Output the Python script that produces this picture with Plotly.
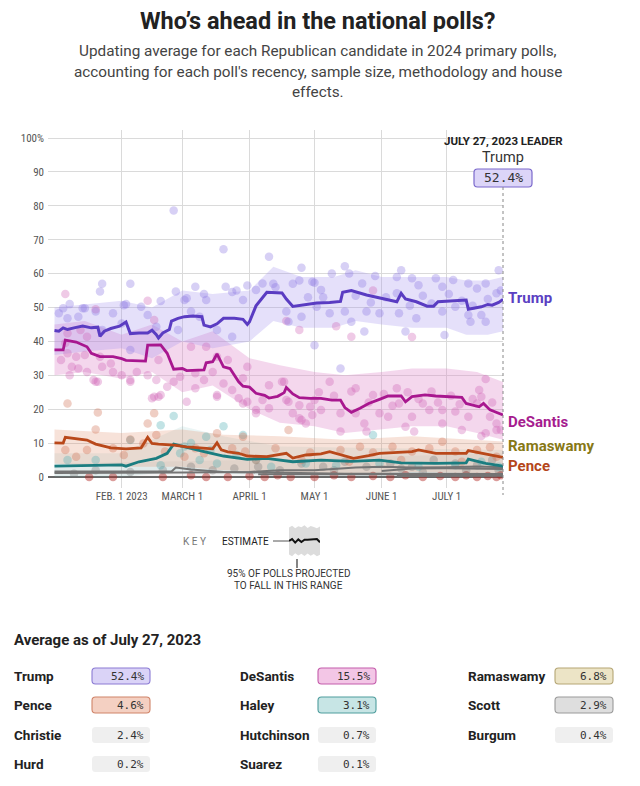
import plotly.graph_objects as go

# ---------------- data ----------------
TRUMP_AVG = [
    ("2023-01-01", 43.2), ("2023-01-03", 43.0), ("2023-01-05", 44.0), ("2023-01-07", 43.5),
    ("2023-01-10", 44.0), ("2023-01-14", 44.5), ("2023-01-18", 44.0), ("2023-01-21", 44.2),
    ("2023-01-22", 41.5), ("2023-01-24", 43.0), ("2023-01-27", 43.8), ("2023-01-31", 44.5),
    ("2023-02-03", 45.7), ("2023-02-05", 42.3), ("2023-02-09", 42.5), ("2023-02-13", 42.5),
    ("2023-02-15", 43.3), ("2023-02-17", 42.0), ("2023-02-18", 41.0), ("2023-02-20", 42.5),
    ("2023-02-23", 43.5), ("2023-02-24", 46.0), ("2023-02-27", 46.8), ("2023-03-02", 47.3),
    ("2023-03-06", 47.5), ("2023-03-10", 47.3), ("2023-03-11", 44.8), ("2023-03-14", 44.3),
    ("2023-03-17", 45.2), ("2023-03-20", 46.8), ("2023-03-25", 46.8), ("2023-03-29", 46.5),
    ("2023-03-31", 45.0), ("2023-04-01", 45.8), ("2023-04-04", 50.5), ("2023-04-07", 53.0),
    ("2023-04-09", 54.5), ("2023-04-16", 54.3), ("2023-04-18", 52.5), ("2023-04-21", 50.3),
    ("2023-04-23", 50.5), ("2023-04-27", 51.0), ("2023-05-02", 51.3), ("2023-05-08", 51.5),
    ("2023-05-13", 51.8), ("2023-05-14", 54.5), ("2023-05-18", 55.0), ("2023-05-25", 53.7),
    ("2023-06-01", 52.7), ("2023-06-08", 51.7), ("2023-06-10", 54.2), ("2023-06-12", 52.5),
    ("2023-06-17", 51.7), ("2023-06-22", 50.4), ("2023-06-25", 50.4), ("2023-06-27", 51.7),
    ("2023-07-10", 52.2), ("2023-07-11", 49.5), ("2023-07-17", 50.2), ("2023-07-20", 50.9),
    ("2023-07-22", 50.7), ("2023-07-25", 51.5), ("2023-07-27", 52.4),
]
DESANTIS_AVG = [
    ("2023-01-01", 37.5), ("2023-01-05", 37.5), ("2023-01-06", 40.4), ("2023-01-11", 39.8),
    ("2023-01-16", 38.4), ("2023-01-18", 36.5), ("2023-01-22", 35.5), ("2023-01-28", 35.5),
    ("2023-02-01", 34.9), ("2023-02-03", 34.4), ("2023-02-12", 34.2), ("2023-02-13", 38.9),
    ("2023-02-19", 39.0), ("2023-02-22", 36.5), ("2023-02-25", 31.8), ("2023-03-01", 32.0),
    ("2023-03-03", 31.4), ("2023-03-11", 31.6), ("2023-03-12", 33.7), ("2023-03-15", 34.0),
    ("2023-03-17", 36.3), ("2023-03-20", 32.5), ("2023-03-23", 32.0), ("2023-03-27", 28.1),
    ("2023-03-29", 26.8), ("2023-04-01", 26.5), ("2023-04-04", 24.7), ("2023-04-08", 24.1),
    ("2023-04-10", 23.3), ("2023-04-14", 23.8), ("2023-04-17", 24.9), ("2023-04-18", 26.4),
    ("2023-04-21", 24.5), ("2023-04-24", 23.4), ("2023-04-29", 23.2), ("2023-05-04", 23.2),
    ("2023-05-09", 22.7), ("2023-05-13", 22.7), ("2023-05-15", 20.5), ("2023-05-18", 19.1),
    ("2023-05-22", 20.3), ("2023-05-26", 21.7), ("2023-05-31", 22.9), ("2023-06-04", 23.9),
    ("2023-06-10", 23.9), ("2023-06-12", 22.2), ("2023-06-15", 23.7), ("2023-06-21", 24.2),
    ("2023-06-26", 23.9), ("2023-07-08", 23.5), ("2023-07-10", 21.7), ("2023-07-16", 20.7),
    ("2023-07-18", 21.7), ("2023-07-21", 19.8), ("2023-07-27", 18.3),
]
PENCE_AVG = [
    ("2023-01-01", 10.1), ("2023-01-05", 10.0), ("2023-01-06", 11.7), ("2023-01-12", 11.1),
    ("2023-01-16", 10.9), ("2023-01-20", 9.7), ("2023-01-27", 8.6), ("2023-02-03", 8.3),
    ("2023-02-10", 8.6), ("2023-02-13", 11.7), ("2023-02-15", 9.9), ("2023-02-18", 9.7),
    ("2023-02-25", 9.4), ("2023-03-03", 8.9), ("2023-03-12", 8.6), ("2023-03-15", 8.3),
    ("2023-03-17", 10.1), ("2023-03-19", 8.0), ("2023-03-22", 7.4), ("2023-03-27", 7.0),
    ("2023-03-31", 6.2), ("2023-04-09", 6.0), ("2023-04-18", 7.0), ("2023-04-21", 5.6),
    ("2023-04-27", 6.5), ("2023-05-04", 6.8), ("2023-05-08", 7.5), ("2023-05-19", 5.5),
    ("2023-05-26", 6.3), ("2023-05-31", 7.0), ("2023-06-15", 7.5), ("2023-06-18", 8.0),
    ("2023-06-26", 7.0), ("2023-07-10", 7.0), ("2023-07-11", 7.8), ("2023-07-17", 7.1),
    ("2023-07-27", 5.8),
]
HALEY_AVG = [
    ("2023-01-01", 3.2), ("2023-01-22", 3.4), ("2023-02-01", 3.6), ("2023-02-03", 3.2),
    ("2023-02-09", 4.5), ("2023-02-17", 5.5), ("2023-02-22", 7.0), ("2023-02-25", 9.7),
    ("2023-02-28", 9.2), ("2023-03-05", 8.5), ("2023-03-11", 7.5), ("2023-03-20", 6.2),
    ("2023-03-31", 5.2), ("2023-04-09", 5.5), ("2023-04-21", 4.5), ("2023-05-04", 5.0),
    ("2023-05-18", 4.6), ("2023-05-31", 5.0), ("2023-06-10", 4.2), ("2023-06-26", 4.0),
    ("2023-07-10", 4.2), ("2023-07-11", 5.3), ("2023-07-19", 4.0), ("2023-07-27", 3.2),
]
SCOTT_AVG = [
    ("2023-01-01", 1.2), ("2023-02-01", 1.2), ("2023-03-01", 1.3), ("2023-04-01", 1.5),
    ("2023-04-15", 2.0), ("2023-05-01", 2.0), ("2023-05-20", 2.8), ("2023-06-01", 3.0),
    ("2023-06-15", 2.8), ("2023-07-01", 2.9), ("2023-07-15", 3.1), ("2023-07-27", 2.9),
]
OTHER_AVG = [
    ("2023-01-01", 1.6), ("2023-02-24", 1.6), ("2023-02-26", 2.8), ("2023-03-05", 2.2),
    ("2023-03-20", 1.5), ("2023-04-15", 1.2), ("2023-05-15", 1.0), ("2023-06-15", 1.0),
    ("2023-07-27", 0.9),
]
CHRISTIE_AVG = [
    ("2023-06-01", 1.8), ("2023-06-15", 2.5), ("2023-07-01", 2.6), ("2023-07-15", 2.5),
    ("2023-07-27", 2.4),
]
HUTCHINSON_AVG = [
    ("2023-04-05", 0.8), ("2023-05-01", 0.9), ("2023-06-01", 0.8), ("2023-07-01", 0.8),
    ("2023-07-27", 0.7),
]
BURGUM_AVG = [("2023-06-08", 0.3), ("2023-07-27", 0.4)]

TRUMP_BAND = [  # date, low, high
    ("2023-01-01", 36, 50), ("2023-01-15", 37, 51), ("2023-02-01", 38, 52),
    ("2023-02-15", 35, 50), ("2023-03-01", 40, 55), ("2023-03-15", 38, 54),
    ("2023-04-01", 40, 55), ("2023-04-12", 46, 62), ("2023-04-25", 44, 59),
    ("2023-05-10", 44, 59), ("2023-05-20", 46, 61), ("2023-06-01", 45, 59),
    ("2023-06-15", 44, 59), ("2023-07-01", 44, 59), ("2023-07-10", 42, 58),
    ("2023-07-20", 42, 58), ("2023-07-27", 43, 59),
]
DESANTIS_BAND = [
    ("2023-01-01", 30, 45), ("2023-01-15", 31, 46), ("2023-02-01", 29, 42),
    ("2023-02-15", 31, 45), ("2023-03-01", 25, 40), ("2023-03-15", 27, 43),
    ("2023-04-01", 20, 35), ("2023-04-15", 16, 33), ("2023-05-01", 15, 31),
    ("2023-05-15", 13, 30), ("2023-06-01", 14, 31), ("2023-06-15", 15, 32),
    ("2023-07-01", 15, 32), ("2023-07-15", 13, 31), ("2023-07-27", 11, 28),
]
PENCE_BAND = [
    ("2023-01-01", 4, 14), ("2023-02-01", 3, 13), ("2023-03-01", 3, 14),
    ("2023-03-20", 2, 12.5), ("2023-04-15", 1.5, 12), ("2023-05-15", 1, 11),
    ("2023-06-15", 1.5, 12), ("2023-07-27", 1, 10.5),
]
HALEY_BAND = [
    ("2023-01-01", 0, 7), ("2023-02-01", 0, 7), ("2023-03-01", 2, 15),
    ("2023-03-20", 1, 12), ("2023-04-15", 0.5, 9), ("2023-07-27", 0, 8),
]
OTHER_BAND = [("2023-01-01", 0, 4), ("2023-04-01", 0, 5), ("2023-07-27", 0, 7)]

TRUMP_POLLS = [
    ("2023-02-25", 78.6), ("2023-03-20", 67.2), ("2023-04-10", 65.0), ("2023-04-25", 61.7),
    ("2023-01-23", 57.0), ("2023-02-05", 57.0), ("2023-01-22", 54.7), ("2023-03-07", 56.1),
    ("2023-01-08", 51.0), ("2023-02-26", 54.7), ("2023-03-21", 56.1), ("2023-04-07", 57.1),
    ("2023-03-31", 56.5), ("2023-04-12", 57.0), ("2023-04-21", 57.0), ("2023-04-24", 58.0),
    ("2023-05-01", 57.3), ("2023-02-19", 51.9), ("2023-02-03", 51.0), ("2023-01-14", 49.8),
    ("2023-01-05", 49.8), ("2023-03-03", 52.7), ("2023-03-11", 54.0), ("2023-03-24", 54.6),
    ("2023-03-26", 55.0), ("2023-04-04", 55.2), ("2023-05-15", 62.2), ("2023-06-10", 61.0),
    ("2023-05-09", 60.0), ("2023-05-17", 60.0), ("2023-05-29", 59.3), ("2023-06-08", 59.0),
    ("2023-06-15", 58.6), ("2023-06-26", 58.6), ("2023-07-04", 58.1), ("2023-07-11", 57.1),
    ("2023-07-19", 57.1), ("2023-07-25", 61.0), ("2023-04-13", 56.0), ("2023-04-30", 57.6),
    ("2023-05-23", 57.1), ("2023-06-18", 56.6), ("2023-06-29", 56.1), ("2023-07-15", 55.6),
    ("2023-07-24", 54.2), ("2023-04-18", 48.8), ("2023-05-08", 48.3), ("2023-05-15", 48.8),
    ("2023-05-25", 48.8), ("2023-06-09", 48.3), ("2023-06-17", 46.8), ("2023-06-29", 48.8),
    ("2023-07-11", 47.8), ("2023-07-17", 47.8), ("2023-07-19", 45.8), ("2023-07-12", 45.8),
    ("2023-04-19", 45.8), ("2023-05-18", 45.8), ("2023-05-24", 42.9), ("2023-06-12", 42.9),
    ("2023-06-30", 41.9), ("2023-05-01", 38.9), ("2023-05-13", 32.0), ("2023-04-25", 47.3),
    ("2023-05-02", 50.2), ("2023-05-31", 48.3), ("2023-07-05", 50.2), ("2023-06-24", 51.2),
    ("2023-05-04", 55.2), ("2023-06-08", 54.2), ("2023-01-15", 49.8), ("2023-01-07", 46.8),
    ("2023-01-12", 47.3), ("2023-01-20", 48.8), ("2023-01-28", 48.3), ("2023-02-02", 50.7),
    ("2023-02-10", 50.2), ("2023-02-13", 47.8), ("2023-03-02", 52.2), ("2023-03-12", 52.2),
    ("2023-03-29", 52.2), ("2023-02-27", 43.4), ("2023-02-05", 37.5), ("2023-01-23", 43.4),
    ("2023-02-01", 45.3), ("2023-03-17", 43.4), ("2023-03-24", 41.4), ("2023-03-09", 47.3),
    ("2023-02-17", 44.3), ("2023-01-03", 48.3), ("2023-03-05", 48.8), ("2023-05-05", 53.0),
    ("2023-05-20", 53.5), ("2023-06-03", 53.0), ("2023-06-20", 53.5), ("2023-07-02", 54.0),
    ("2023-07-08", 52.0), ("2023-07-20", 52.5), ("2023-07-26", 55.0), ("2023-04-28", 53.0),
    ("2023-05-27", 51.5), ("2023-06-14", 50.5), ("2023-07-13", 50.5),
]
DESANTIS_POLLS = [
    ("2023-01-06", 54.0), ("2023-02-13", 52.0), ("2023-01-20", 49.5), ("2023-05-28", 55.0),
    ("2023-04-24", 43.4), ("2023-05-11", 44.5), ("2023-05-18", 41.4), ("2023-06-15", 41.3),
    ("2023-04-18", 46.0), ("2023-01-07", 36.5), ("2023-01-09", 32.5), ("2023-01-12", 32.0),
    ("2023-01-08", 30.0), ("2023-01-16", 31.0), ("2023-01-19", 28.6), ("2023-01-21", 28.1),
    ("2023-01-23", 32.5), ("2023-01-27", 33.5), ("2023-01-28", 31.0), ("2023-02-01", 30.0),
    ("2023-02-05", 28.6), ("2023-02-08", 31.0), ("2023-02-13", 30.0), ("2023-02-17", 28.6),
    ("2023-02-15", 23.2), ("2023-02-18", 23.7), ("2023-02-22", 26.6), ("2023-02-25", 28.1),
    ("2023-02-28", 29.6), ("2023-03-03", 22.2), ("2023-03-07", 26.2), ("2023-03-11", 28.6),
    ("2023-03-15", 31.0), ("2023-03-17", 23.7), ("2023-03-20", 27.6), ("2023-03-24", 25.7),
    ("2023-03-27", 23.2), ("2023-03-31", 22.2), ("2023-03-29", 29.1), ("2023-04-04", 19.8),
    ("2023-04-07", 22.7), ("2023-04-10", 27.1), ("2023-04-16", 28.1), ("2023-04-18", 22.7),
    ("2023-04-21", 18.8), ("2023-04-24", 17.3), ("2023-04-29", 20.7), ("2023-05-01", 22.7),
    ("2023-04-30", 18.3), ("2023-01-04", 34.5), ("2023-01-07", 42.4), ("2023-01-13", 43.4),
    ("2023-01-16", 41.4), ("2023-01-22", 35.5), ("2023-01-15", 36.0), ("2023-03-07", 30.6),
    ("2023-02-18", 34.5), ("2023-04-17", 28.1), ("2023-05-08", 28.1), ("2023-05-18", 25.2),
    ("2023-05-20", 26.2), ("2023-05-28", 24.2), ("2023-06-08", 26.2), ("2023-06-09", 21.7),
    ("2023-06-20", 21.7), ("2023-06-24", 25.2), ("2023-06-29", 19.8), ("2023-07-05", 19.3),
    ("2023-07-16", 25.7), ("2023-07-19", 28.9), ("2023-07-17", 23.7), ("2023-07-17", 12.1),
    ("2023-07-19", 12.9), ("2023-07-24", 15.8), ("2023-07-26", 13.9), ("2023-04-19", 22.2),
    ("2023-04-24", 21.2), ("2023-04-25", 16.8), ("2023-04-27", 15.8), ("2023-05-04", 19.8),
    ("2023-05-13", 18.8), ("2023-05-13", 13.4), ("2023-05-20", 18.8), ("2023-05-24", 15.8),
    ("2023-05-25", 13.4), ("2023-05-31", 18.8), ("2023-06-04", 17.8), ("2023-06-12", 14.8),
    ("2023-06-15", 17.8), ("2023-06-16", 13.4), ("2023-06-23", 19.8), ("2023-06-29", 15.8),
    ("2023-07-08", 13.9), ("2023-07-11", 17.8), ("2023-07-15", 21.7), ("2023-07-21", 17.8),
    ("2023-07-24", 13.9), ("2023-01-06", 39.5), ("2023-01-11", 35.5), ("2023-02-16", 46.3),
    ("2023-03-05", 38.4), ("2023-03-12", 38.4), ("2023-03-17", 35.5), ("2023-03-22", 34.5),
    ("2023-03-31", 32.5), ("2023-01-20", 28.1), ("2023-02-05", 28.1), ("2023-02-16", 23.7),
    ("2023-02-19", 24.2), ("2023-03-17", 24.2), ("2023-03-29", 21.7), ("2023-04-04", 18.8),
    ("2023-04-10", 20.3), ("2023-05-03", 25.0), ("2023-05-10", 24.0), ("2023-05-26", 22.0),
    ("2023-06-02", 24.5), ("2023-06-06", 21.0), ("2023-06-13", 25.0), ("2023-06-18", 23.0),
    ("2023-06-27", 22.0), ("2023-07-03", 24.0), ("2023-07-07", 21.5), ("2023-07-13", 23.0),
    ("2023-07-22", 22.0),
]
PENCE_POLLS = [
    ("2023-01-07", 21.7), ("2023-01-21", 19.0), ("2023-01-20", 14.0), ("2023-02-13", 15.8),
    ("2023-02-16", 18.8), ("2023-03-17", 12.9), ("2023-03-29", 11.9), ("2023-01-16", 8.0),
    ("2023-01-11", 6.0), ("2023-01-28", 8.5), ("2023-02-05", 11.1), ("2023-02-11", 9.9),
    ("2023-02-17", 12.4), ("2023-02-21", 7.5), ("2023-03-02", 6.0), ("2023-03-07", 8.5),
    ("2023-03-11", 7.0), ("2023-03-24", 8.5), ("2023-03-30", 7.5), ("2023-04-04", 5.0),
    ("2023-01-06", 8.0), ("2023-02-02", 6.5), ("2023-04-13", 8.5), ("2023-04-19", 13.9),
    ("2023-04-29", 7.2), ("2023-05-13", 8.0), ("2023-05-22", 8.9), ("2023-05-28", 7.2),
    ("2023-06-06", 8.9), ("2023-06-15", 7.5), ("2023-06-23", 8.5), ("2023-06-29", 10.4),
    ("2023-07-05", 7.5), ("2023-07-15", 8.0), ("2023-07-21", 8.8), ("2023-07-24", 6.0),
    ("2023-04-25", 5.0), ("2023-05-17", 4.5), ("2023-06-10", 5.0), ("2023-07-08", 4.5),
]
HALEY_POLLS = [
    ("2023-02-25", 18.0), ("2023-03-20", 15.0), ("2023-03-29", 12.4), ("2023-02-19", 15.3),
    ("2023-03-12", 11.9), ("2023-01-07", 5.0), ("2023-01-20", 5.0), ("2023-02-05", 10.9),
    ("2023-02-19", 3.5), ("2023-02-28", 7.0), ("2023-03-09", 5.0), ("2023-03-17", 4.0),
    ("2023-03-26", 6.5), ("2023-04-04", 5.0), ("2023-05-28", 12.4), ("2023-04-11", 3.0),
    ("2023-04-27", 4.0), ("2023-05-11", 3.5), ("2023-05-31", 4.0), ("2023-06-18", 3.0),
    ("2023-07-05", 3.5), ("2023-07-17", 4.5), ("2023-07-25", 3.0), ("2023-03-02", 9.0),
    ("2023-03-05", 10.0), ("2023-03-14", 8.0),
]
OTHER_POLLS = [
    ("2023-01-10", 1.0), ("2023-01-20", 2.0), ("2023-02-05", 1.5), ("2023-02-20", 2.0),
    ("2023-03-05", 3.0), ("2023-03-15", 2.0), ("2023-03-25", 2.5), ("2023-04-05", 3.0),
    ("2023-04-15", 2.0), ("2023-04-25", 4.0), ("2023-05-05", 3.0), ("2023-05-15", 4.5),
    ("2023-05-25", 3.0), ("2023-06-05", 4.0), ("2023-06-15", 3.0), ("2023-06-25", 5.0),
    ("2023-07-05", 4.0), ("2023-07-15", 3.5), ("2023-07-22", 5.0), ("2023-07-25", 2.0),
    ("2023-05-10", 2.0), ("2023-06-10", 2.5), ("2023-06-20", 1.5), ("2023-07-10", 2.0),
]
LOW_POLLS = [
    ("2023-01-28", 0.0), ("2023-02-20", 0.0), ("2023-03-05", 0.5), ("2023-03-22", 0.0),
    ("2023-04-01", 0.3), ("2023-04-08", 0.0), ("2023-04-14", 0.5), ("2023-04-20", 0.0),
    ("2023-05-01", 0.0), ("2023-05-10", 0.5), ("2023-05-18", 0.0), ("2023-05-28", 0.3),
    ("2023-06-05", 0.0), ("2023-06-12", 0.5), ("2023-06-20", 0.0), ("2023-06-28", 0.3),
    ("2023-07-05", 0.0), ("2023-07-10", 0.5), ("2023-07-15", 0.0), ("2023-07-20", 0.3),
    ("2023-07-24", 0.0), ("2023-07-26", 0.5), ("2023-01-17", 0.0), ("2023-03-12", 0.0),
]

KEY_X = [0, 1, 2, 3, 4, 5, 6, 7, 8, 9, 10]
KEY_HIGH = [9.2, 9.8, 9.0, 9.6, 9.3, 9.9, 9.1, 9.7, 9.4, 9.0, 9.5]
KEY_LOW = [0.8, 0.2, 1.2, 0.5, 1.0, 0.3, 1.1, 0.4, 0.9, 0.2, 0.7]
KEY_EST = [5.0, 5.6, 4.5, 5.5, 4.7, 5.4, 5.4, 5.5, 5.4, 5.6, 4.6]

X_TICKS = ["2023-02-01", "2023-03-01", "2023-04-01", "2023-05-01", "2023-06-01", "2023-07-01"]
X_TICK_TEXT = ["FEB. 1 2023", "MARCH 1", "APRIL 1", "MAY 1", "JUNE 1", "JULY 1"]
Y_TICKS = [0, 10, 20, 30, 40, 50, 60, 70, 80, 90, 100]
Y_TICK_TEXT = ["0", "10", "20", "30", "40", "50", "60", "70", "80", "90", "100%"]

TABLE_NAMES = ["Trump", "DeSantis", "Ramaswamy", "Pence", "Haley", "Scott",
               "Christie", "Hutchinson", "Burgum", "Hurd", "Suarez"]
TABLE_VALUES = [52.4, 15.5, 6.8, 4.6, 3.1, 2.9, 2.4, 0.7, 0.4, 0.2, 0.1]

# ---------------- helpers ----------------
# The page body has an 8px margin, so the figure is drawn 8px in from the window
# edge; positions below are given in window pixels and shifted accordingly.
PAGE_OFF = 8
W, H = 624, 770


def fx(p):
    return (p - PAGE_OFF) / W


def fy(p):
    return 1 - (p - PAGE_OFF) / H


def col(rows, i):
    return [r[i] for r in rows]


def band(rows, color):
    d = col(rows, 0)
    return go.Scatter(x=d + d[::-1], y=col(rows, 2) + col(rows, 1)[::-1], fill="toself",
                      fillcolor=color, line=dict(width=0), mode="lines", hoverinfo="skip")


def dots(rows, color):
    return go.Scatter(x=col(rows, 0), y=col(rows, 1), mode="markers",
                      marker=dict(size=8.5, color=color, line=dict(width=0)), hoverinfo="skip")


def line(rows, color, width=2.8):
    return go.Scatter(x=col(rows, 0), y=col(rows, 1), mode="lines",
                      line=dict(color=color, width=width), hoverinfo="skip")


def rrect(x0, y0, x1, y1, r=3.5):
    return (f"M {fx(x0 + r)},{fy(y0)} L {fx(x1 - r)},{fy(y0)} Q {fx(x1)},{fy(y0)} {fx(x1)},{fy(y0 + r)} "
            f"L {fx(x1)},{fy(y1 - r)} Q {fx(x1)},{fy(y1)} {fx(x1 - r)},{fy(y1)} "
            f"L {fx(x0 + r)},{fy(y1)} Q {fx(x0)},{fy(y1)} {fx(x0)},{fy(y1 - r)} "
            f"L {fx(x0)},{fy(y0 + r)} Q {fx(x0)},{fy(y0)} {fx(x0 + r)},{fy(y0)} Z")


PURPLE = "#5a3cc2"
MAGENTA = "#a8178f"
ORANGE = "#b9481a"
TEAL = "#1b7d80"
GRAY = "#747474"

fig = go.Figure()
fig.add_trace(band(OTHER_BAND, "rgba(150,150,150,0.10)"))
fig.add_trace(band(HALEY_BAND, "rgba(90,175,175,0.12)"))
fig.add_trace(band(PENCE_BAND, "rgba(225,140,105,0.25)"))
fig.add_trace(band(DESANTIS_BAND, "rgba(222,130,200,0.32)"))
fig.add_trace(band(TRUMP_BAND, "rgba(160,140,235,0.27)"))

fig.add_trace(dots(LOW_POLLS, "rgba(175,35,30,0.45)"))
fig.add_trace(dots(OTHER_POLLS, "rgba(110,110,110,0.30)"))
fig.add_trace(dots(HALEY_POLLS, "rgba(80,175,180,0.35)"))
fig.add_trace(dots(PENCE_POLLS, "rgba(210,115,85,0.35)"))
fig.add_trace(dots(DESANTIS_POLLS, "rgba(205,95,180,0.33)"))
fig.add_trace(dots(TRUMP_POLLS, "rgba(140,120,225,0.35)"))

for rows in (OTHER_AVG, HUTCHINSON_AVG, BURGUM_AVG, CHRISTIE_AVG, SCOTT_AVG):
    fig.add_trace(line(rows, GRAY, 2))
fig.add_trace(line(HALEY_AVG, TEAL))
fig.add_trace(line(PENCE_AVG, ORANGE))
fig.add_trace(line(DESANTIS_AVG, MAGENTA))
fig.add_trace(line(TRUMP_AVG, PURPLE, 3))

# key inset
fig.add_trace(go.Scatter(x=KEY_X + KEY_X[::-1], y=KEY_HIGH + KEY_LOW[::-1], fill="toself",
                         fillcolor="#dcdcdc", line=dict(width=0), mode="lines",
                         xaxis="x2", yaxis="y2", hoverinfo="skip"))
fig.add_trace(go.Scatter(x=KEY_X, y=KEY_EST, mode="lines", line=dict(color="#111", width=2),
                         xaxis="x2", yaxis="y2", hoverinfo="skip"))

FONT = "Roboto, Arial, sans-serif"
COND = "Roboto Condensed, DejaVu Sans Condensed, Roboto, sans-serif"
MONO = "DejaVu Sans Mono, Liberation Mono, monospace"

fig.update_layout(
    width=W, height=H, margin=dict(l=0, r=0, t=0, b=0),
    paper_bgcolor="white", plot_bgcolor="white", showlegend=False,
    xaxis=dict(domain=[fx(48), fx(503)], range=["2022-12-29", "2023-07-27"], type="date",
               tickvals=X_TICKS, ticktext=X_TICK_TEXT, showgrid=True, gridcolor="#dadada",
               gridwidth=1, zeroline=False, showline=False, ticks="",
               tickfont=dict(family=COND, size=11, color="#555"), fixedrange=True),
    yaxis=dict(domain=[fy(488), fy(130)], range=[-3.24, 102.36], tickvals=Y_TICKS,
               ticktext=Y_TICK_TEXT, showgrid=True, gridcolor="#dadada", gridwidth=1,
               zeroline=True, zerolinecolor="#666", zerolinewidth=1.5, showline=False,
               ticks="", ticklabelstandoff=3,
               tickfont=dict(family=COND, size=11, color="#555"), fixedrange=True),
    xaxis2=dict(domain=[fx(289), fx(320)], range=[0, 10], visible=False, anchor="y2",
                fixedrange=True),
    yaxis2=dict(domain=[fy(557), fy(525)], range=[0, 10], visible=False, anchor="x2",
                fixedrange=True),
)

ann = []


def text(x, y, s, size=12, color="#222", bold=False, family=FONT, anchor="center", height=None):
    a = dict(x=fx(x), y=fy(y), xref="paper", yref="paper", text=(f"<b>{s}</b>" if bold else s),
             showarrow=False, xanchor=anchor, yanchor="middle",
             font=dict(size=size, color=color, family=family))
    if height:
        a["height"] = height
    ann.append(a)


# title and subtitle
text(318, 21, "Who’s ahead in the national polls?", 23.5, "#222", True, height=22)
text(318, 51, "Updating average for each Republican candidate in 2024 primary polls,", 15.3, "#444")
text(318, 72, "accounting for each poll's recency, sample size, methodology and house", 15.3, "#444")
text(318, 92, "effects.", 15.3, "#444")

# leader
text(503, 141, "JULY 27, 2023 LEADER", 11.5, "#222", True)
text(503, 157, "Trump", 14.5, "#333")
shapes = [
    dict(type="path", path=rrect(474, 169, 532, 187), xref="paper", yref="paper",
         fillcolor="#dcd5f8", line=dict(color="#7b69cc", width=1.2), layer="above"),
    dict(type="line", x0=fx(503), x1=fx(503), y0=fy(187), y1=fy(495), xref="paper", yref="paper",
         line=dict(color="#888", width=1, dash="dot"), layer="above"),
    dict(type="line", x0=fx(273), x1=fx(289), y0=fy(541), y1=fy(541), xref="paper", yref="paper",
         line=dict(color="#555", width=1)),
    dict(type="line", x0=fx(297), x1=fx(297), y0=fy(559), y1=fy(568), xref="paper", yref="paper",
         line=dict(color="#333", width=1.2)),
]
text(503, 178, "52.4%", 13, "#333", family=MONO)

# right labels
text(506, 298, "Trump", 15, "#5b40c2", True, anchor="left")
text(506, 422, "DeSantis", 15, "#a61c8f", True, anchor="left")
text(506, 446, "Ramaswamy", 15, "#877816", True, anchor="left")
text(506, 466, "Pence", 15, "#b5461a", True, anchor="left")

# key
text(194, 541, "K E Y", 10, "#777")
text(245, 541, "ESTIMATE", 10, "#222")
text(288, 573, "95% OF POLLS PROJECTED", 10, "#333")
text(288, 585, "TO FALL IN THIS RANGE", 10, "#333")

# table
text(12, 640, "Average as of July 27, 2023", 15, "#222", True, anchor="left")
BOX_STYLE = {
    "Trump": ("#dad3f7", "#8b7bd4"),
    "DeSantis": ("#f3c6e6", "#c45cab"),
    "Ramaswamy": ("#ece4c6", "#b5a675"),
    "Pence": ("#f4d0c2", "#d08469"),
    "Haley": ("#c7e5e5", "#4f9d9d"),
    "Scott": ("#dedede", "#9a9a9a"),
}
col_name_x = [12, 238, 466]
col_box_x = [92, 318, 555]
row_y = [676, 705, 735, 764]
for i, (name, val) in enumerate(zip(TABLE_NAMES, TABLE_VALUES)):
    r, c = divmod(i, 3)
    y = row_y[r]
    text(col_name_x[c], y, name, 13.5, "#222", True, anchor="left")
    bx = col_box_x[c]
    fill, border = BOX_STYLE.get(name, ("#efefef", None))
    shapes.append(dict(type="path", path=rrect(bx, y - 8, bx + 58, y + 8), xref="paper",
                       yref="paper", fillcolor=fill,
                       line=dict(color=border or "rgba(0,0,0,0)", width=1.1 if border else 0)))
    text(bx + 54, y + 0.5, f"{val:.1f}%", 11, "#333", family=MONO, anchor="right")

fig.update_layout(annotations=ann, shapes=shapes)
fig.write_html("out.html")
